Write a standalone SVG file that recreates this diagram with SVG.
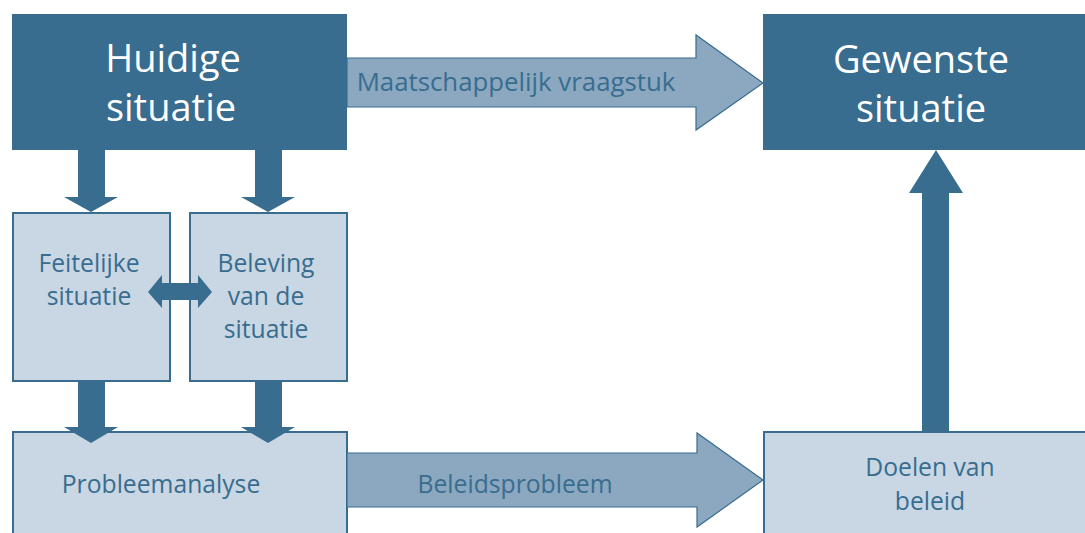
<svg xmlns="http://www.w3.org/2000/svg" width="1085" height="533" viewBox="0 0 1085 533">
<style>
.dark{fill:#386d8f}
.light{fill:#c9d7e4;stroke:#386d8f;stroke-width:2}
.wide{fill:#8ba8c0;stroke:#386d8f;stroke-width:1.2}
text{font-family:"Open Sans","Liberation Sans",sans-serif;font-variant-ligatures:none}
.tw{fill:#ffffff;font-size:38px;text-anchor:middle}
.tb{fill:#386d8f;font-size:24.7px;text-anchor:middle}
</style>
<rect width="1085" height="533" fill="#ffffff"/>
<g id="huidige">
<rect class="dark" x="12" y="14" width="335" height="136"/>
<text class="tw" x="173" y="72">Huidige</text>
<text class="tw" x="171" y="121">situatie</text>
</g>
<g id="gewenste">
<rect class="dark" x="763" y="14" width="322" height="136"/>
<text class="tw" x="921" y="73">Gewenste</text>
<text class="tw" x="921" y="122">situatie</text>
</g>
<g id="feitelijke">
<rect class="light" x="13" y="213" width="157" height="168"/>
<text class="tb" x="89" y="272">Feitelijke</text>
<text class="tb" x="89" y="305">situatie</text>
</g>
<g id="beleving">
<rect class="light" x="190" y="213" width="157" height="168"/>
<text class="tb" x="266" y="272">Beleving</text>
<text class="tb" x="266" y="305">van de</text>
<text class="tb" x="266" y="338">situatie</text>
</g>
<g id="probleemanalyse">
<rect class="light" x="13" y="432" width="334" height="110"/>
<text class="tb" x="161" y="493">Probleemanalyse</text>
</g>
<g id="doelen">
<rect class="light" x="764" y="432" width="330" height="110"/>
<text class="tb" x="930" y="476">Doelen van</text>
<text class="tb" x="930" y="510">beleid</text>
</g>
<g id="connectors">
<polygon class="dark" points="78,150 105,150 105,197 118,197 91,212 64,197 78,197"/>
<polygon class="dark" points="255,150 282,150 282,197 295,197 268,212 241,197 255,197"/>
<polygon class="dark" points="78,382 105,382 105,427 118,427 91,443 64,427 78,427"/>
<polygon class="dark" points="255,382 282,382 282,427 295,427 268,443 241,427 255,427"/>
<polygon class="dark" points="148,292 162,275 162,283 198,283 198,275 212,292 198,308 198,300 162,300 162,308"/>
<polygon class="dark" points="922,432 949,432 949,193 963,193 936,150 909,193 922,193"/>
<g id="maatschappelijk">
<polygon class="wide" points="347,58 696,58 696,35 763,83 696,130 696,107 347,107"/>
<text class="tb" x="516" y="91" style="font-size:25.8px">Maatschappelijk vraagstuk</text>
</g>
<g id="beleidsprobleem">
<polygon class="wide" points="347,453 697,453 697,433 763,480 697,527 697,507 347,507"/>
<text class="tb" x="515" y="493">Beleidsprobleem</text>
</g>
</g>
</svg>
